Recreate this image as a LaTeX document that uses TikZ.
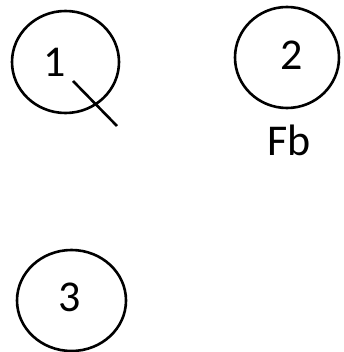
\documentclass[tikz,border=0pt]{standalone}
\usepackage{fontspec}
\setmainfont{Carlito}
\usetikzlibrary{shapes.geometric}
\begin{document}
\begin{tikzpicture}[x=1pt,y=-1pt,
  circ/.style={draw,line width=2.6pt,ellipse,inner sep=0pt},
  lbl/.style={font=\fontsize{44}{48}\selectfont,inner sep=0pt},
  stroke/.style={line width=2.6pt}]
\useasboundingbox (0,0) rectangle (343,352);
\node[circ,minimum width=107pt,minimum height=102pt] (c1) at (65.5,62) {};
\node[circ,minimum width=104pt,minimum height=101pt] (c2) at (287,57.5) {};
\node[circ,minimum width=109pt,minimum height=101pt] (c3) at (71.5,300.5) {};
\node[lbl] (t1) at (55,62) {1};
\node[lbl] (t2) at (292,55) {2};
\node[lbl] (t3) at (70,297) {3};
\node[lbl,anchor=base] (fb) at (289,156) {Fb};
\coordinate (s1) at (73,81);
\coordinate (s2) at (117,126);
\draw[stroke] (s1) -- (s2);
\end{tikzpicture}
\end{document}
